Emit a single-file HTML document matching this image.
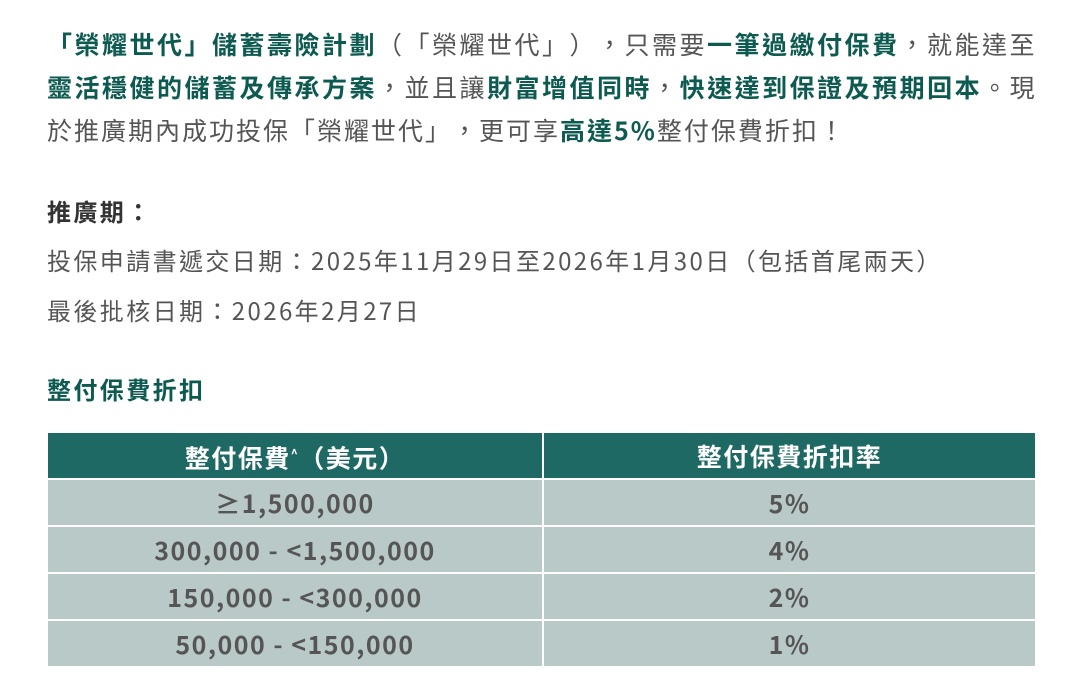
<!DOCTYPE html>
<html><head><meta charset="utf-8"><style>
body{margin:0;width:1080px;height:698px;background:#fff;font-family:"Noto Sans CJK TC",sans-serif;color:#555;overflow:hidden;position:relative;text-spacing-trim:space-all;font-kerning:none}
.l{position:absolute;left:47px;font-size:24px;white-space:nowrap;line-height:30px;letter-spacing:2.4px}
.p{font-size:25px;letter-spacing:2.5px}
b{color:#0d5a50;font-weight:bold}
.h{color:#333;font-weight:bold}
table{position:absolute;left:46px;top:431px;width:991px;border-collapse:collapse;font-size:25px;font-weight:bold;text-align:center;line-height:30px;letter-spacing:1.5px}
td,th{border:2px solid #fff;padding:0;height:45px}
th{background:#1e6964;color:#fff}
td{background:#b9c9c8;color:#555}
</style></head><body>
<div class="l p" style="top:29px"><b>「榮耀世代」儲蓄壽險計劃</b>（「榮耀世代」），只需要<b>一筆過繳付保費</b>，就能達至</div>
<div class="l p" style="top:72px"><b>靈活穩健的儲蓄及傳承方案</b>，並且讓<b>財富增值同時</b>，<b>快速達到保證及預期回本</b>。現</div>
<div class="l p" style="top:115px;letter-spacing:2px">於推廣期內成功投保「榮耀世代」，更可享<b>高達5%</b>整付保費折扣！</div>
<div class="l h" style="top:196px">推廣期：</div>
<div class="l" style="top:245px">投保申請書遞交日期：2025年11月29日至2026年1月30日（包括首尾兩天）</div>
<div class="l" style="top:295px">最後批核日期：2026年2月27日</div>
<div class="l" style="top:374px"><b>整付保費折扣</b></div>
<table>
<tr><th style="width:494px">整付保費<sup style="font-size:12px">^</sup>（美元）</th><th>整付保費折扣率</th></tr>
<tr><td>≥1,500,000</td><td>5%</td></tr>
<tr><td>300,000 - &lt;1,500,000</td><td>4%</td></tr>
<tr><td>150,000 - &lt;300,000</td><td>2%</td></tr>
<tr><td>50,000 - &lt;150,000</td><td>1%</td></tr>
</table>
</body></html>
